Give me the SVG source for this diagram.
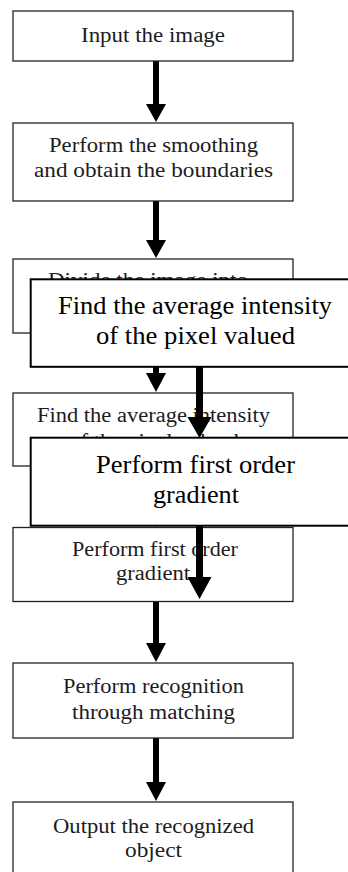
<svg xmlns="http://www.w3.org/2000/svg" width="348" height="872" viewBox="0 0 348 872">
<defs>
<style>
.box{fill:#fff;stroke:#222;stroke-width:1.3}
.ov{fill:#fff;stroke:#000;stroke-width:2}
.t{font-size:20.5px;fill:#1c1c24}
.to{font-size:25.5px;fill:#000}
.sh{fill:#000}
</style>
</defs>
<rect width="348" height="872" fill="#fff"/>
<g id="connectors">
<path class="sh" d="M153,61 H159 V104 H166 L156,122 L146,104 H153 Z"/>
<path class="sh" d="M153,201 H159 V240 H166 L156,258 L146,240 H153 Z"/>
<path class="sh" d="M153,333 H159 V373 H166 L156,392 L146,373 H153 Z"/>
<path class="sh" d="M153,466 H159 V508 H166 L156,527 L146,508 H153 Z"/>
<path class="sh" d="M153,601 H159 V643 H166 L156,662 L146,643 H153 Z"/>
<path class="sh" d="M153,738 H159 V782 H166 L156,801 L146,782 H153 Z"/>
</g>
<g font-family="Liberation Serif, Times New Roman, serif">
<g id="n1"><rect class="box" x="13" y="11" width="280" height="50"/>
<text class="t" x="81" y="42" textLength="144" lengthAdjust="spacingAndGlyphs">Input the image</text></g>
<g id="n2"><rect class="box" x="13" y="123" width="280" height="78"/>
<text class="t" x="49" y="152" textLength="209" lengthAdjust="spacingAndGlyphs">Perform the smoothing</text>
<text class="t" x="34" y="177" textLength="239" lengthAdjust="spacingAndGlyphs">and obtain the boundaries</text></g>
<g id="n3"><rect class="box" x="13" y="259" width="280" height="74"/>
<text class="t" x="48" y="287" textLength="200" lengthAdjust="spacingAndGlyphs">Divide the image into</text></g>
<g id="n4"><rect class="box" x="13" y="393" width="280" height="73"/>
<text class="t" x="37" y="422" textLength="233" lengthAdjust="spacingAndGlyphs">Find the average intensity</text>
<text class="t" x="69" y="448" textLength="170" lengthAdjust="spacingAndGlyphs">of the pixel valued</text></g>
<g id="n5"><rect class="box" x="13" y="527.5" width="280" height="74"/>
<text class="t" x="72" y="556" textLength="166" lengthAdjust="spacingAndGlyphs">Perform first order</text>
<text class="t" x="116" y="580" textLength="74" lengthAdjust="spacingAndGlyphs">gradient</text></g>
<g id="n6"><rect class="box" x="13" y="663" width="280" height="75"/>
<text class="t" x="63" y="693" textLength="181" lengthAdjust="spacingAndGlyphs">Perform recognition</text>
<text class="t" x="72" y="719" textLength="163" lengthAdjust="spacingAndGlyphs">through matching</text></g>
<g id="n7"><rect class="box" x="13" y="802" width="280" height="80"/>
<text class="t" x="53" y="833" textLength="201" lengthAdjust="spacingAndGlyphs">Output the recognized</text>
<text class="t" x="125" y="857" textLength="57" lengthAdjust="spacingAndGlyphs">object</text></g>
<g id="overlayA"><rect class="ov" x="30.7" y="279.3" width="330" height="87.5"/>
<text class="to" x="58" y="314" textLength="274" lengthAdjust="spacingAndGlyphs">Find the average intensity</text>
<text class="to" x="96" y="344" textLength="199" lengthAdjust="spacingAndGlyphs">of the pixel valued</text></g>
<g id="overlayArrowA"><path class="sh" d="M196,367 H203 V417 H211.5 L199.5,438 L187.5,417 H196 Z"/></g>
<g id="overlayB"><rect class="ov" x="30.7" y="437.7" width="330" height="88"/>
<text class="to" x="96" y="473" textLength="199" lengthAdjust="spacingAndGlyphs">Perform first order</text>
<text class="to" x="153" y="503" textLength="86" lengthAdjust="spacingAndGlyphs">gradient</text></g>
<g id="overlayArrowB"><path class="sh" d="M196,526 H203 V577 H211.5 L199.5,599 L187.5,577 H196 Z"/></g>
</g>
</svg>
